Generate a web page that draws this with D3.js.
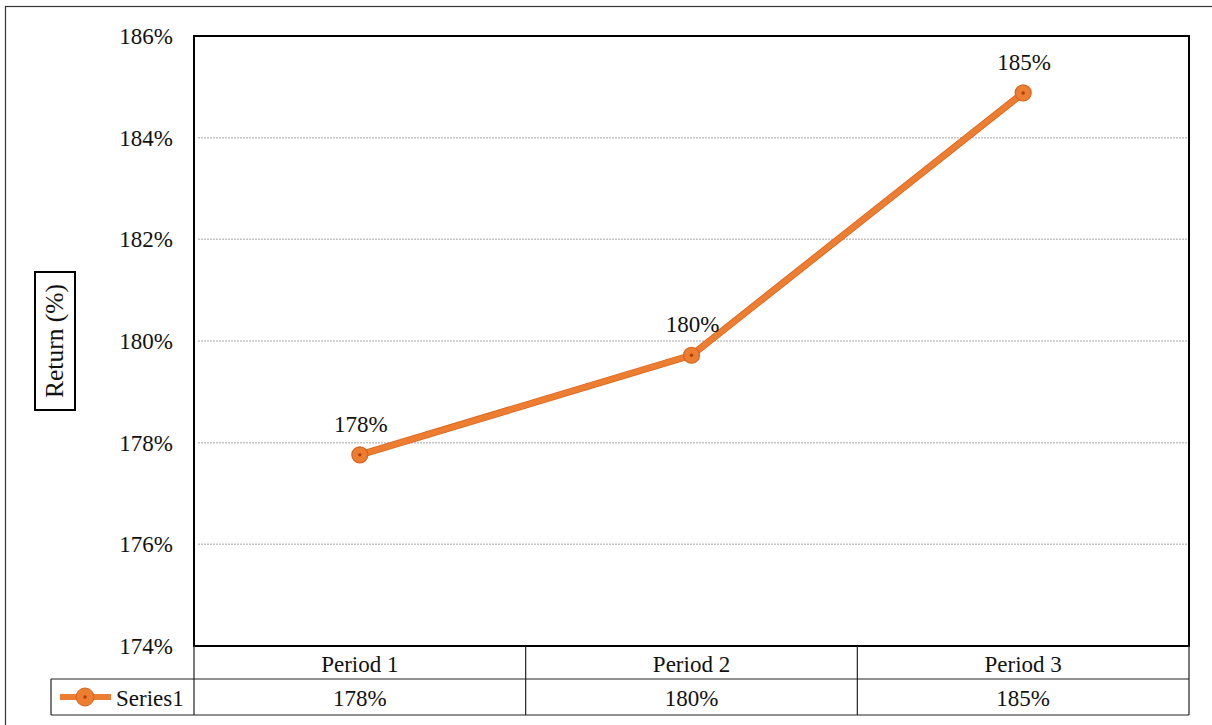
<!DOCTYPE html>
<html><head><meta charset="utf-8">
<script src="https://cdn.jsdelivr.net/npm/d3@7"></script>
<style>body{margin:0;background:#fff}svg{display:block}</style>
</head><body>
<svg id="c" width="1212" height="725"></svg>
<script>
const categories = ["Period 1","Period 2","Period 3"];
const values = [177.76, 179.72, 184.88];
const valueLabels = ["178%","180%","185%"];
const yTicks = [174,176,178,180,182,184,186];
const seriesName = "Series1";
const axisTitle = "Return (%)";

const FONT = "'Liberation Serif', 'Times New Roman', Tinos, 'DejaVu Serif', serif";
const svg = d3.select("#c").style("font-family", FONT);
const L=194, T=36, R=1189, B=646;
const color="#ED7D31", dark="#D5651F";
const fs=23;

function txt(sel){ return sel.style("font-family",FONT).attr("fill","#111"); }

// outer border
svg.append("rect").attr("x",5.5).attr("y",6.5).attr("width",1220).attr("height",730).attr("fill","none").attr("stroke","#333").attr("stroke-width",1.2);

const x = d3.scaleBand().domain(categories).range([L,R]);
const y = d3.scaleLinear().domain([174,186]).range([B,T]);

// gridlines
svg.append("g").selectAll("line").data(yTicks.filter(t=>t>174&&t<186)).join("line")
  .attr("x1",L+4).attr("x2",R-2).attr("y1",d=>y(d)).attr("y2",d=>y(d))
  .attr("stroke","#c4c4c4").attr("stroke-width",1.5).attr("stroke-dasharray","2,1");

// y axis labels
const yAxis = d3.axisLeft(y).tickValues(yTicks).tickSize(0).tickPadding(21).tickFormat(d=>d+"%");
const ga = svg.append("g").attr("transform",`translate(${L},0)`).call(yAxis).attr("font-family",null).attr("font-size",null);
ga.select(".domain").remove();
txt(ga.selectAll("text")).style("font-size",fs+"px").attr("dy","0.33em");

// plot border
svg.append("rect").attr("x",L).attr("y",T).attr("width",R-L).attr("height",B-T).attr("fill","none").attr("stroke","#000").attr("stroke-width",2);

// axis title box
const tg = svg.append("g").attr("transform","translate(55,341) rotate(-90)");
tg.append("rect").attr("x",-69).attr("y",-20).attr("width",138).attr("height",40).attr("fill","#fff").attr("stroke","#000").attr("stroke-width",2);
txt(tg.append("text")).attr("text-anchor","middle").attr("dy","0.33em").style("font-size","25.5px").text(axisTitle);

// line
const cx = d=>x(d)+x.bandwidth()/2;
const line = d3.line().x((d,i)=>cx(categories[i])).y(d=>y(d));
svg.append("path").datum(values).attr("d",line).attr("fill","none").attr("stroke",dark).attr("stroke-width",7).attr("stroke-linejoin","round");
svg.append("path").datum(values).attr("d",line).attr("fill","none").attr("stroke",color).attr("stroke-width",5.5).attr("stroke-linejoin","round");
const pts = svg.append("g").selectAll("g").data(values).join("g").attr("transform",(d,i)=>`translate(${cx(categories[i])},${y(d)})`);
pts.append("circle").attr("r",8).attr("fill",color).attr("stroke",dark).attr("stroke-width",1.2);
pts.append("circle").attr("r",1.7).attr("fill","#a8400c");

// data labels
txt(svg.append("g").selectAll("text").data(values).join("text"))
  .attr("x",(d,i)=>cx(categories[i])+1).attr("y",d=>y(d)-23)
  .attr("text-anchor","middle").style("font-size",fs+"px").text((d,i)=>valueLabels[i]);

// data table
const r1=B, r2=679, r3=715, lx=51;
const tb = svg.append("g").attr("stroke","#222").attr("stroke-width",1.2).attr("fill","none");
tb.append("line").attr("x1",L).attr("x2",R).attr("y1",r2).attr("y2",r2);
tb.append("line").attr("x1",lx).attr("x2",R).attr("y1",r3).attr("y2",r3);
tb.append("line").attr("x1",lx).attr("x2",L).attr("y1",r2).attr("y2",r2);
tb.append("line").attr("x1",lx).attr("x2",lx).attr("y1",r2).attr("y2",r3);
[L, ...categories.map(c=>x(c)+x.bandwidth())].forEach(xx=>{
  tb.append("line").attr("x1",xx).attr("x2",xx).attr("y1",r1).attr("y2",r3);
});
txt(svg.append("g").selectAll("text").data(categories).join("text"))
  .attr("x",d=>cx(d)).attr("y",(r1+r2)/2+1).attr("dy","0.35em").attr("text-anchor","middle").style("font-size",fs+"px").text(d=>d);
txt(svg.append("g").selectAll("text").data(valueLabels).join("text"))
  .attr("x",(d,i)=>cx(categories[i])).attr("y",(r2+r3)/2+1).attr("dy","0.35em").attr("text-anchor","middle").style("font-size",fs+"px").text(d=>d);

// legend key
const ly=(r2+r3)/2;
svg.append("line").attr("x1",60).attr("x2",111).attr("y1",ly).attr("y2",ly).attr("stroke",color).attr("stroke-width",6);
svg.append("circle").attr("cx",85).attr("cy",ly).attr("r",9).attr("fill",color).attr("stroke",dark).attr("stroke-width",1);
svg.append("circle").attr("cx",85).attr("cy",ly).attr("r",1.7).attr("fill","#a8400c");
txt(svg.append("text")).attr("x",116).attr("y",ly+1).attr("dy","0.35em").style("font-size",fs+"px").text(seriesName);
</script>
</body></html>
